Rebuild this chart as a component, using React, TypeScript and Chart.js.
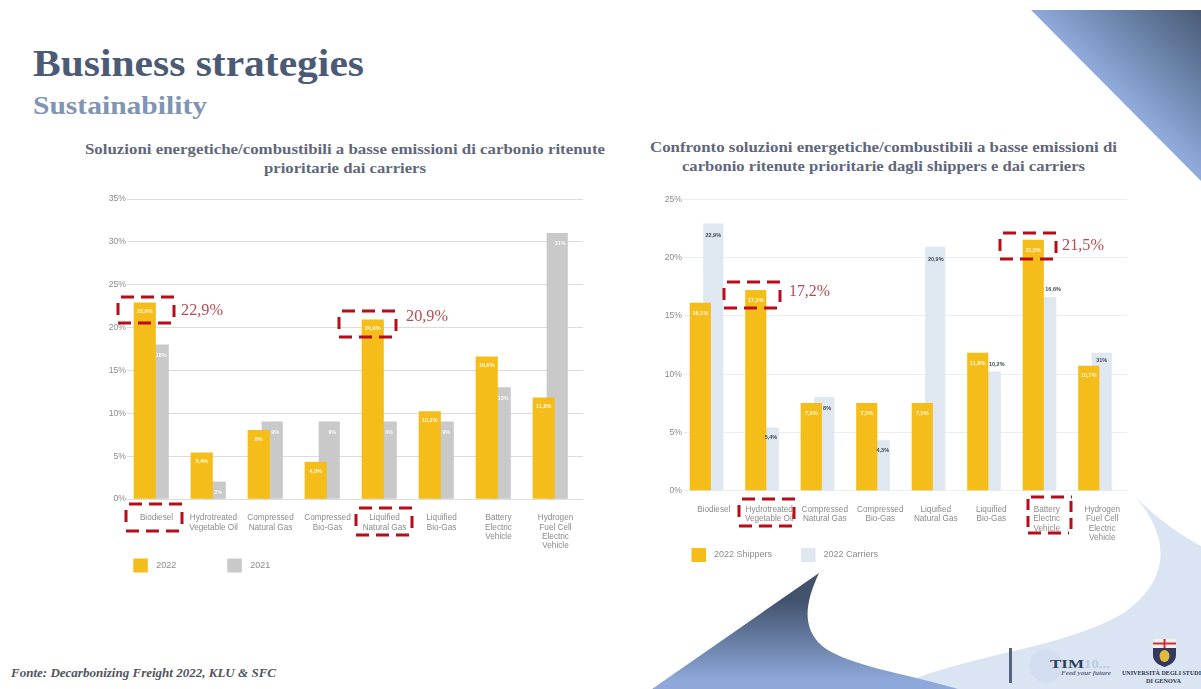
import React, { useEffect, useRef } from "react";
import { Chart, registerables } from "chart.js";

Chart.register(...registerables);

const leftCategories = [
  ["Biodiesel"],
  ["Hydrotreated", "Vegetable Oil"],
  ["Compressed", "Natural Gas"],
  ["Compressed", "Bio-Gas"],
  ["Liquified", "Natural Gas"],
  ["Liquified", "Bio-Gas"],
  ["Battery", "Electric", "Vehicle"],
  ["Hydrogen", "Fuel Cell", "Electric", "Vehicle"],
];
const rightCategories = leftCategories;

const values2022 = [22.9, 5.4, 8, 4.3, 20.9, 10.2, 16.6, 11.8];
const values2021 = [18, 2, 9, 9, 9, 9, 13, 31];
const shippers2022 = [16.1, 17.2, 7.5, 7.5, 7.5, 11.8, 21.5, 10.7];
const carriers2022 = [22.9, 5.4, 8, 4.3, 20.9, 10.2, 16.6, 11.8];

const labels2022 = ["22,9%", "5,4%", "8%", "4,3%", "20,9%", "10,2%", "16,6%", "11,8%"];
const labels2021 = ["18%", "2%", "9%", "9%", "9%", "9%", "13%", "31%"];
const labelsShippers = ["16,1%", "17,2%", "7,5%", "7,5%", "7,5%", "11,8%", "21,5%", "10,7%"];
const labelsCarriers = ["22,9%", "5,4%", "8%", "4,3%", "20,9%", "10,2%", "16,6%", "31%"];

const carrierNudgeX = [0, 2.2, 2.8, 3, 0.5, 6, 6.8, 0];
const carrierNudgeY = [12, 10, 11, 10, 12, -7.5, -8, 7];

const ORANGE = "#f5bd1a";
const GREY = "#c9c9c9";
const PALE = "#dfe7f1";
const AXIS_FONT = "'Liberation Sans', Arial, sans-serif";

const barLabelPlugin = {
  id: "barLabels",
  afterDatasetsDraw(chart: any) {
    const { ctx } = chart;
    chart.data.datasets.forEach((ds: any, di: number) => {
      const meta = chart.getDatasetMeta(di);
      meta.data.forEach((el: any, i: number) => {
        const txt = ds.valueLabels[i];
        const dx = ds.labelDx?.[i] ?? ds.labelDxAll ?? 0;
        const dy = ds.labelDy?.[i] ?? ds.labelDyAll ?? 9;
        ctx.save();
        ctx.font = `bold 5.5px ${AXIS_FONT}`;
        ctx.fillStyle = ds.labelColor;
        ctx.textAlign = "center";
        ctx.textBaseline = "middle";
        ctx.fillText(txt, el.x + dx, el.y + dy);
        ctx.restore();
      });
    });
  },
};

const legendPlugin = {
  id: "placedLegend",
  afterDraw(chart: any, _a: any, opts: any) {
    const { ctx } = chart;
    chart.data.datasets.forEach((ds: any, i: number) => {
      const sx = opts.swatchX[i];
      ctx.save();
      ctx.fillStyle = ds.backgroundColor;
      ctx.fillRect(sx, opts.y - 7, 14.5, 14);
      ctx.font = `9px ${AXIS_FONT}`;
      ctx.fillStyle = "#8c8c8c";
      ctx.textAlign = "left";
      ctx.textBaseline = "middle";
      ctx.fillText(ds.label, sx + opts.gap, opts.y);
      ctx.restore();
    });
  },
};

type PanelProps = {
  left: number;
  top: number;
  width: number;
  height: number;
  categories: string[][];
  datasets: any[];
  yMax: number;
  yWidth: number;
  xHeight: number;
  paddingTop: number;
  paddingRight: number;
  gridColor: string;
  labelOffset: number;
  legend: { swatchX: number[]; y: number; gap: number };
};

function Panel(p: PanelProps) {
  const ref = useRef<HTMLCanvasElement | null>(null);
  useEffect(() => {
    const chart = new Chart(ref.current as HTMLCanvasElement, {
      type: "bar",
      data: { labels: p.categories as any, datasets: p.datasets },
      plugins: [barLabelPlugin, legendPlugin],
      options: {
        animation: false,
        responsive: false,
        events: [],
        layout: { padding: { top: p.paddingTop, right: p.paddingRight, left: 0, bottom: 0 } },
        plugins: {
          legend: { display: false },
          tooltip: { enabled: false },
          placedLegend: p.legend,
        } as any,
        scales: {
          x: {
            type: "category",
            offset: true,
            grid: { display: false },
            border: { display: false },
            afterFit(s: any) {
              s.height = p.xHeight;
            },
            ticks: {
              autoSkip: false,
              maxRotation: 0,
              minRotation: 0,
              padding: 6.5,
              labelOffset: p.labelOffset,
              color: "#8a8a8a",
              font: { family: AXIS_FONT, size: 8.2, lineHeight: 1.14 },
            },
          },
          bars: { type: "linear", axis: "x", display: false, offset: false, min: -0.5, max: 7.5 },
          y: {
            min: 0,
            max: p.yMax,
            afterFit(s: any) {
              s.width = p.yWidth;
            },
            grid: { color: p.gridColor, lineWidth: 1, drawTicks: false },
            border: { display: false },
            ticks: {
              stepSize: 5,
              padding: 1,
              color: "#8a8a8a",
              font: { family: AXIS_FONT, size: 8.6 },
              callback: (v: any) => `${v}%`,
            },
          },
        } as any,
      },
    } as any);
    return () => chart.destroy();
  }, []);
  return (
    <canvas
      ref={ref}
      width={p.width}
      height={p.height}
      style={{ position: "absolute", left: p.left, top: p.top, width: p.width, height: p.height }}
    />
  );
}

const place = (vals: number[], shift: number) => vals.map((y, i) => ({ x: i + shift, y }));

const leftDatasets = [
  {
    label: "2022",
    data: place(values2022, -0.189),
    valueLabels: labels2022,
    labelColor: "#fff7dc",
    labelDyAll: 9,
    backgroundColor: ORANGE,
    xAxisID: "bars",
    grouped: false,
    barThickness: 21.5,
    order: 0,
  },
  {
    label: "2021",
    data: place(values2021, 0.048),
    valueLabels: labels2021,
    labelColor: "#f7f7f7",
    labelDxAll: 3,
    labelDyAll: 10.5,
    backgroundColor: GREY,
    xAxisID: "bars",
    grouped: false,
    barThickness: 20.5,
    order: 1,
  },
];

const rightDatasets = [
  {
    label: "2022 Shippers",
    data: place(shippers2022, -0.189),
    valueLabels: labelsShippers,
    labelColor: "#fff7dc",
    labelDyAll: 10,
    backgroundColor: ORANGE,
    xAxisID: "bars",
    grouped: false,
    barThickness: 20.5,
    order: 0,
  },
  {
    label: "2022 Carriers",
    data: place(carriers2022, 0.045),
    valueLabels: labelsCarriers,
    labelColor: "#3d4a5c",
    labelDx: carrierNudgeX,
    labelDy: carrierNudgeY,
    backgroundColor: PALE,
    xAxisID: "bars",
    grouped: false,
    barThickness: 19.5,
    order: 1,
  },
];

const SERIF = "'Liberation Serif', 'DejaVu Serif', serif";

function Txt(props: {
  x: number;
  y: number;
  w?: number;
  size: number;
  color: string;
  bold?: boolean;
  italic?: boolean;
  anchor?: string;
  family?: string;
  children: string;
}) {
  const { x, y, w, size, color, bold, italic, anchor, family, children } = props;
  return (
    <text
      x={x}
      y={y}
      fontFamily={family ?? SERIF}
      fontSize={size}
      fontWeight={bold ? 700 : 400}
      fontStyle={italic ? "italic" : "normal"}
      fill={color}
      textAnchor={anchor ?? "start"}
      textLength={w}
      lengthAdjust={w ? "spacingAndGlyphs" : undefined}
    >
      {children}
    </text>
  );
}

function Backdrop() {
  return (
    <svg width={1201} height={689} style={{ position: "absolute", left: 0, top: 0 }}>
      <defs>
        <linearGradient id="corner" gradientUnits="userSpaceOnUse" x1="1201" y1="10" x2="1120" y2="95">
          <stop offset="0" stopColor="#4a5a75" />
          <stop offset="0.55" stopColor="#6d86ad" />
          <stop offset="1" stopColor="#8fa9da" />
        </linearGradient>
        <linearGradient id="wedge" gradientUnits="userSpaceOnUse" x1="0" y1="600" x2="0" y2="680">
          <stop offset="0" stopColor="#42526d" />
          <stop offset="1" stopColor="#8ea8da" />
        </linearGradient>
      </defs>
      <path d="M1031,10 L1201,10 L1201,181 Z" fill="url(#corner)" />
      <path
        d="M1130,491 C1172,535 1172,580 1122,614 C1060,650 960,655 890,689 L1201,689 L1201,546 C1175,532 1150,513 1130,491 Z"
        fill="#dbe4f2"
      />
      <path
        d="M652,689 L819,573 C805,603 803,625 818,642 C838,664 900,672 958,689 Z"
        fill="url(#wedge)"
      />
      <rect x={1009} y={648} width={3} height={35} fill="#55647f" />
      <circle cx={1046} cy={666} r={16.5} fill="#cfdcee" opacity={0.7} />
      <Txt x={1050} y={668} w={34} size={13} color="#2f3f5a" bold>TIM</Txt>
      <Txt x={1084} y={668} w={26} size={12} color="#bccbe2" bold>10...</Txt>
      <Txt x={1061} y={675} w={50} size={6} color="#5b6a85" italic bold>Feed your future</Txt>
      <path d="M1153,648 H1176 V655 C1176,662 1170,665 1164.5,667 C1159,665 1153,662 1153,655 Z" fill="#33395f" />
      <rect x={1153} y={639} width={23} height={9} fill="#f4f0ea" />
      <rect x={1153} y={642.5} width={23} height={2} fill="#c9323a" />
      <rect x={1163.5} y={639} width={2} height={9} fill="#c9323a" />
      <ellipse cx={1164.5} cy={656} rx={5} ry={6} fill="#e0bb3a" />
      <Txt x={1122} y={675} w={79} size={7} color="#2f3447" bold>UNIVERSITÀ DEGLI STUDI</Txt>
      <Txt x={1146} y={683} w={35} size={7} color="#2f3447" bold>DI GENOVA</Txt>

      <Txt x={33} y={76} w={331} size={37} color="#4c5b75" bold>Business strategies</Txt>
      <Txt x={33} y={114} w={174} size={25} color="#8094b3" bold>Sustainability</Txt>
      <Txt x={85} y={154} w={520} size={15} color="#5f677c" bold>Soluzioni energetiche/combustibili a basse emissioni di carbonio ritenute</Txt>
      <Txt x={264} y={173} w={162} size={15} color="#5f677c" bold>prioritarie dai carriers</Txt>
      <Txt x={650} y={152} w={467} size={15} color="#5f677c" bold>Confronto soluzioni energetiche/combustibili a basse emissioni di</Txt>
      <Txt x={682} y={171} w={403} size={15} color="#5f677c" bold>carbonio ritenute prioritarie dagli shippers e dai carriers</Txt>
      <Txt x={11} y={677} w={265} size={12.5} color="#50545c" bold italic>Fonte: Decarbonizing Freight 2022, KLU &amp; SFC</Txt>
    </svg>
  );
}

const callouts = [
  { x: 118, y: 297, w: 57, h: 26 },
  { x: 339, y: 311, w: 58, h: 26 },
  { x: 126, y: 504, w: 57, h: 27 },
  { x: 356, y: 508, w: 57, h: 27 },
  { x: 724, y: 282, w: 57, h: 26 },
  { x: 1000, y: 233, w: 57, h: 26 },
  { x: 739, y: 499, w: 56, h: 27 },
  { x: 1028, y: 497, w: 44, h: 36 },
];

function Callouts() {
  return (
    <svg width={1201} height={689} style={{ position: "absolute", left: 0, top: 0 }}>
      {callouts.map((c, i) => {
        const sideDash = c.h > 30 ? "11 6" : "12 100";
        const sideStart = c.h > 30 ? 2 : 6;
        return (
          <g key={i} fill="none" stroke="#b80d18" strokeWidth={3}>
            <line x1={c.x + 3} y1={c.y} x2={c.x + c.w} y2={c.y} strokeDasharray="13 7" />
            <line x1={c.x} y1={c.y + c.h} x2={c.x + c.w - 3} y2={c.y + c.h} strokeDasharray="13 7" />
            <line x1={c.x} y1={c.y + sideStart} x2={c.x} y2={c.y + c.h} strokeDasharray={sideDash} />
            <line x1={c.x + c.w - 1} y1={c.y + sideStart + 2} x2={c.x + c.w - 1} y2={c.y + c.h} strokeDasharray={sideDash} />
          </g>
        );
      })}
      <Txt x={181} y={315} w={42} size={16} color="#b44a52">22,9%</Txt>
      <Txt x={406} y={321} w={42} size={16} color="#b44a52">20,9%</Txt>
      <Txt x={789} y={296} w={41} size={16} color="#b44a52">17,2%</Txt>
      <Txt x={1062} y={250} w={42} size={16} color="#b44a52">21,5%</Txt>
    </svg>
  );
}

export default function App() {
  return (
    <div
      style={{
        position: "fixed",
        left: 0,
        top: 0,
        width: 1201,
        height: 689,
        background: "#fff",
        overflow: "hidden",
        filter: "blur(0.45px)",
      }}
    >
      <Backdrop />
      <Panel
        left={90}
        top={190}
        width={510}
        height={400}
        categories={leftCategories}
        datasets={leftDatasets}
        yMax={35}
        yWidth={37}
        xHeight={91}
        paddingTop={9}
        paddingRight={17}
        gridColor="#dcdcdc"
        labelOffset={1}
        legend={{ swatchX: [43.3, 137.3], y: 375.5, gap: 23 }}
      />
      <Panel
        left={645}
        top={190}
        width={500}
        height={400}
        categories={rightCategories}
        datasets={rightDatasets}
        yMax={25}
        yWidth={38}
        xHeight={99.3}
        paddingTop={9.3}
        paddingRight={18}
        gridColor="#ebedf0"
        labelOffset={3}
        legend={{ swatchX: [46.5, 156], y: 365, gap: 22.5 }}
      />
      <Callouts />
    </div>
  );
}
